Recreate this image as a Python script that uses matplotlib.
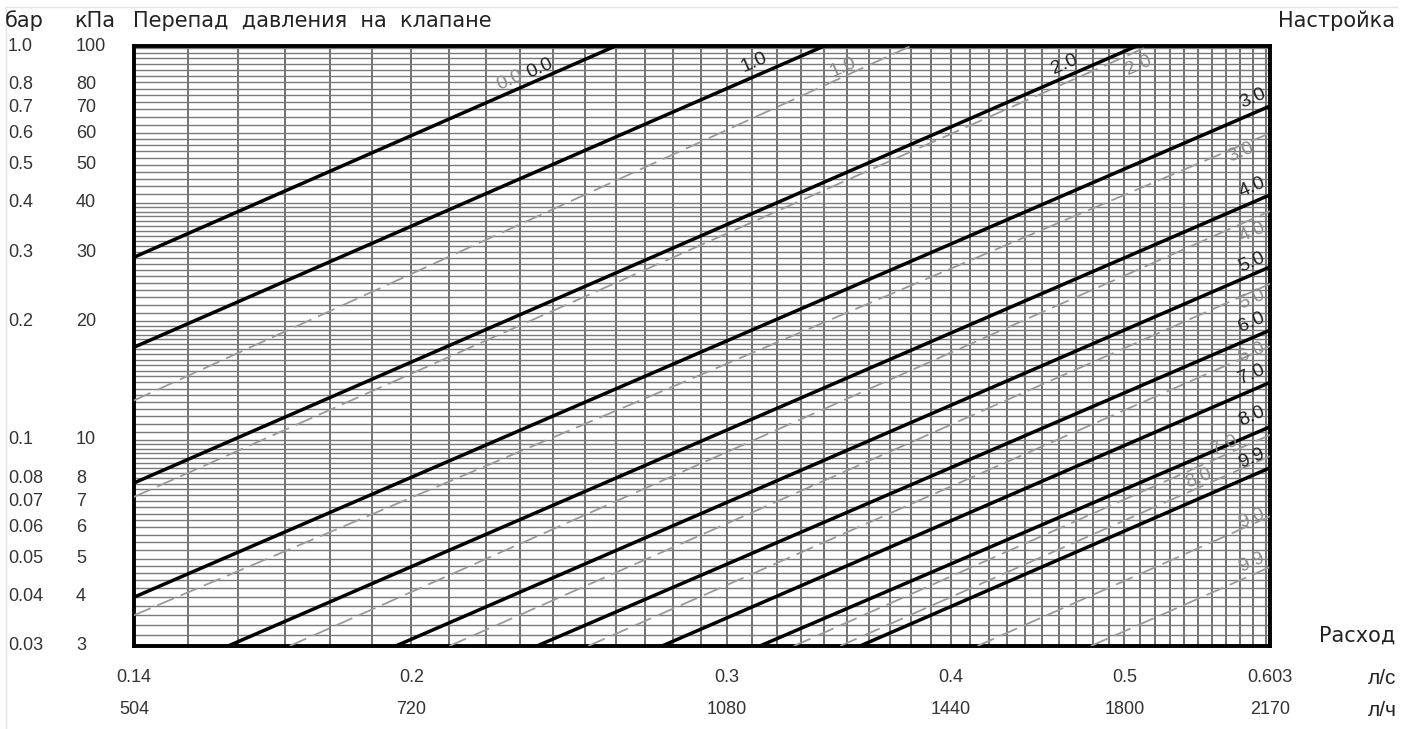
import numpy as np
import matplotlib
matplotlib.use('Agg')
import matplotlib.pyplot as plt
from matplotlib.ticker import FixedLocator, NullLocator, NullFormatter
import matplotlib.transforms as mtransforms
from matplotlib.lines import Line2D

plt.rcParams['font.family'] = ['Liberation Sans', 'DejaVu Sans']

# ---- data ----
# black (solid) curves: start point and end point where they meet the frame, (l/s, kPa)
black_names = ['0.0', '1.0', '2.0', '3.0', '4.0', '5.0', '6.0', '7.0', '8.0', '9.9']
black_q0 = [0.140, 0.140, 0.140, 0.140, 0.158, 0.196, 0.235, 0.276, 0.313, 0.356]
black_p0 = [29.1, 17.2, 7.78, 3.99, 3.0, 3.0, 3.0, 3.0, 3.0, 3.0]
black_q1 = [0.260, 0.340, 0.508, 0.603, 0.603, 0.603, 0.603, 0.603, 0.603, 0.603]
black_p1 = [100, 100, 100, 70.4, 41.9, 27.5, 19.0, 14.0, 10.8, 8.5]

# grey (dashed) curves, 0.0 lies under the black one
grey_names = ['0.0', '1.0', '2.0', '3.0', '4.0', '5.0', '6.0', '7.0', '8.0', '9.0', '9.9']
grey_q0 = [0.140, 0.140, 0.140, 0.140, 0.171, 0.210, 0.251, 0.327, 0.347, 0.414, 0.479]
grey_p0 = [29.1, 12.6, 7.17, 3.59, 3.0, 3.0, 3.0, 3.0, 3.0, 3.0, 3.0]
grey_q1 = [0.260, 0.380, 0.516, 0.603, 0.603, 0.603, 0.603, 0.603, 0.603, 0.603, 0.603]
grey_p1 = [100, 100, 100, 60.1, 38.1, 24.9, 17.3, 10.3, 9.1, 6.4, 4.76]

# axis tick labels
flow_ls = [0.14, 0.2, 0.3, 0.4, 0.5, 0.603]
flow_ls_txt = ['0.14', '0.2', '0.3', '0.4', '0.5', '0.603']
flow_lh_txt = ['504', '720', '1080', '1440', '1800', '2170']
dp_kpa = [100, 80, 70, 60, 50, 40, 30, 20, 10, 8, 7, 6, 5, 4, 3]
dp_kpa_txt = ['100', '80', '70', '60', '50', '40', '30', '20', '10', '8', '7', '6', '5', '4', '3']
dp_bar_txt = ['1.0', '0.8', '0.7', '0.6', '0.5', '0.4', '0.3', '0.2', '0.1', '0.08', '0.07',
              '0.06', '0.05', '0.04', '0.03']

# label positions (axes fraction) for curve names
black_lab_pos = [(0.357, 0.963), (0.546, 0.973), (0.819, 0.970), (0.985, 0.912), (0.984, 0.765),
                 (0.984, 0.640), (0.984, 0.540), (0.984, 0.452), (0.984, 0.382), (0.984, 0.313)]
grey_lab_pos = [(0.331, 0.943), (0.624, 0.965), (0.884, 0.967), (0.974, 0.822), (0.984, 0.690),
                (0.984, 0.577), (0.984, 0.490), (0.960, 0.335), (0.937, 0.280), (0.984, 0.213),
                (0.984, 0.140)]

fig = plt.figure(figsize=(14.1, 7.29), dpi=100)
# faint scan border (top and left)
fig.lines.append(Line2D([6 / 1410, 1397 / 1410], [1 - 7 / 729, 1 - 7 / 729],
                        transform=fig.transFigure, color='#e4e4e4', lw=1.0))
fig.lines.append(Line2D([6 / 1410, 6 / 1410], [0, 1 - 7 / 729],
                        transform=fig.transFigure, color='#e4e4e4', lw=1.0))

ax = fig.add_axes([134 / 1410, 1 - 646 / 729, 1136 / 1410, 600 / 729])
ax.set_xscale('log')
ax.set_yscale('log')
ax.set_xlim(0.14, 0.603)
ax.set_ylim(3, 100)

# grid
xgrid = np.round(np.arange(0.15, 0.605, 0.01), 3)
ygrid = np.concatenate([np.arange(3, 5, 0.2), np.arange(5, 10, 0.25), np.arange(10, 20, 0.5),
                        np.arange(20, 40, 1.0), np.arange(40, 60, 2.0), np.arange(60, 100, 3.0)])
ax.xaxis.set_major_locator(FixedLocator(xgrid))
ax.yaxis.set_major_locator(FixedLocator(ygrid))
ax.xaxis.set_minor_locator(NullLocator())
ax.yaxis.set_minor_locator(NullLocator())
ax.xaxis.set_major_formatter(NullFormatter())
ax.yaxis.set_major_formatter(NullFormatter())
ax.tick_params(which='both', length=0)
ax.grid(True, axis='x', color='#4a4a4a', lw=1.1)
ax.grid(True, axis='y', color='#7a7a7a', lw=1.0)
for s in ax.spines.values():
    s.set_linewidth(2.8)
    s.set_color('black')

# curves
for i in range(len(grey_names)):
    ax.plot([grey_q0[i], grey_q1[i]], [grey_p0[i], grey_p1[i]], color='#9a9a9a', lw=1.3,
            dashes=(10, 4), solid_capstyle='butt', zorder=3)
for i in range(len(black_names)):
    ax.plot([black_q0[i], black_q1[i]], [black_p0[i], black_p1[i]], color='black', lw=2.5,
            zorder=4)

# angle of slope-2 lines on screen
fig.canvas.draw()
p_a = ax.transData.transform((0.2, 10))
p_b = ax.transData.transform((0.4, 40))
ang = np.degrees(np.arctan2(p_b[1] - p_a[1], p_b[0] - p_a[0]))

for name, (fx, fy) in zip(black_names, black_lab_pos):
    ax.text(fx, fy, name, transform=ax.transAxes, rotation=ang, ha='center', va='center',
            fontsize=14, color='#222222', clip_on=True, zorder=5)
for name, (fx, fy) in zip(grey_names, grey_lab_pos):
    ax.text(fx, fy, name, transform=ax.transAxes, rotation=ang, ha='center', va='center',
            fontsize=14, color='#8a8a8a', clip_on=True, zorder=5)

# y tick labels (two columns)
ty = mtransforms.blended_transform_factory(fig.transFigure, ax.transData)
for v, tb, tk in zip(dp_kpa, dp_bar_txt, dp_kpa_txt):
    ax.text(8 / 1410, v, tb, transform=ty, ha='left', va='center', fontsize=13, color='#333333')
    ax.text(76 / 1410, v, tk, transform=ty, ha='left', va='center', fontsize=13, color='#333333')

# x tick labels (two rows)
tx = mtransforms.blended_transform_factory(ax.transData, fig.transFigure)
for v, t1, t2 in zip(flow_ls, flow_ls_txt, flow_lh_txt):
    ax.text(v, 1 - 678 / 729, t1, transform=tx, ha='center', va='center', fontsize=13,
            color='#333333')
    ax.text(v, 1 - 710 / 729, t2, transform=tx, ha='center', va='center', fontsize=13,
            color='#333333')

# headers
hdr = dict(va='center', fontsize=15, color='#222222', family=['DejaVu Sans'])
fig.text(5 / 1410, 1 - 21 / 729, 'бар', ha='left', **hdr)
fig.text(74 / 1410, 1 - 21 / 729, 'кПа', ha='left', **hdr)
fig.text(133 / 1410, 1 - 21 / 729, 'Перепад  давления  на  клапане', ha='left', **hdr)
fig.text(1395 / 1410, 1 - 21 / 729, 'Настройка', ha='right', **hdr)
fig.text(1395 / 1410, 1 - 636 / 729, 'Расход', ha='right', **hdr)
fig.text(1368 / 1410, 1 - 678 / 729, 'л/с', ha='left', va='center', fontsize=15, color='#222222')
fig.text(1368 / 1410, 1 - 710 / 729, 'л/ч', ha='left', va='center', fontsize=15, color='#222222')

fig.savefig('out.png', dpi=100, facecolor='white')
